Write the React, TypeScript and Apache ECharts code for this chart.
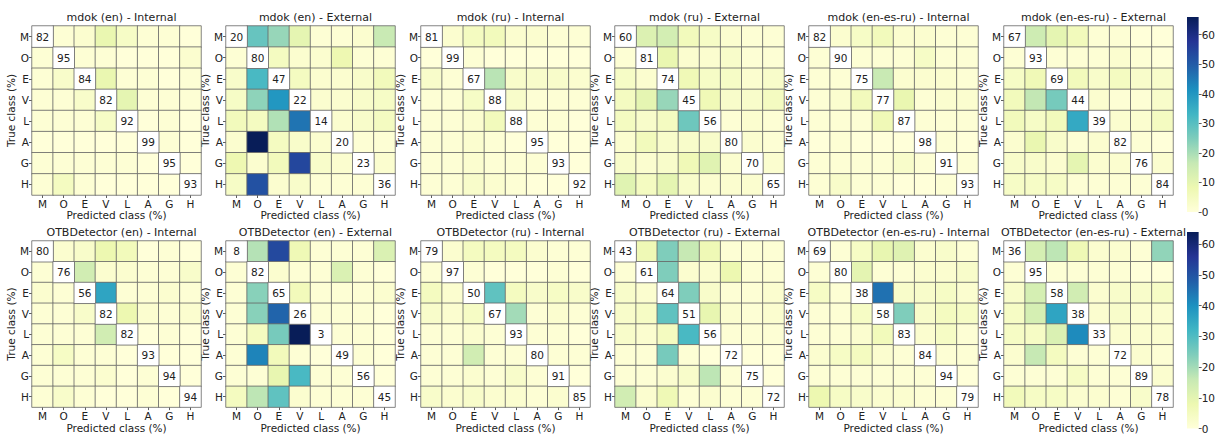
import React, { useEffect, useRef } from 'react';
import * as echarts from 'echarts';

const classes = ['M', 'O', 'E', 'V', 'L', 'A', 'G', 'H'];

const panelTitles = [
  'mdok (en) - Internal', 'mdok (en) - External', 'mdok (ru) - Internal',
  'mdok (ru) - External', 'mdok (en-es-ru) - Internal', 'mdok (en-es-ru) - External',
  'OTBDetector (en) - Internal', 'OTBDetector (en) - External', 'OTBDetector (ru) - Internal',
  'OTBDetector (ru) - External', 'OTBDetector (en-es-ru) - Internal', 'OTBDetector (en-es-ru) - External',
];

// rows = true class, columns = predicted class (M O E V L A G H), in %
const mdokEnInternal = [
  [82, 1, 2, 9, 4, 1, 1, 0],
  [1, 95, 1, 1, 0, 0, 0, 2],
  [1, 3, 84, 9, 1, 1, 0, 1],
  [1, 1, 3, 82, 10, 1, 1, 1],
  [1, 1, 1, 4, 92, 0, 1, 0],
  [0, 0, 0, 0, 0, 99, 1, 0],
  [1, 1, 1, 1, 1, 0, 95, 0],
  [1, 5, 1, 0, 0, 0, 0, 93],
];
const mdokEnExternal = [
  [20, 28, 22, 10, 1, 1, 2, 16],
  [1, 80, 5, 2, 2, 8, 1, 1],
  [3, 32, 47, 5, 2, 2, 3, 6],
  [4, 23, 40, 22, 2, 2, 3, 4],
  [6, 5, 19, 46, 14, 2, 3, 5],
  [2, 66, 5, 3, 2, 20, 1, 1],
  [8, 2, 6, 54, 3, 2, 23, 2],
  [4, 52, 2, 3, 1, 1, 1, 36],
];
const mdokRuInternal = [
  [81, 2, 5, 6, 2, 2, 1, 1],
  [0, 99, 1, 0, 0, 0, 0, 0],
  [3, 1, 67, 18, 3, 3, 3, 2],
  [1, 1, 4, 88, 3, 1, 1, 1],
  [1, 1, 2, 6, 88, 1, 1, 0],
  [1, 1, 2, 1, 0, 95, 0, 0],
  [1, 1, 2, 1, 1, 1, 93, 0],
  [1, 1, 3, 2, 1, 0, 0, 92],
];
const mdokRuExternal = [
  [60, 12, 14, 6, 4, 2, 1, 1],
  [1, 81, 9, 2, 2, 3, 1, 1],
  [4, 2, 74, 7, 4, 4, 2, 3],
  [5, 10, 22, 45, 7, 3, 3, 5],
  [5, 3, 5, 27, 56, 1, 2, 1],
  [2, 6, 3, 3, 3, 80, 2, 1],
  [3, 2, 3, 7, 11, 2, 70, 2],
  [11, 5, 10, 3, 2, 2, 2, 65],
];
const mdokMultiInternal = [
  [82, 2, 4, 6, 2, 2, 1, 1],
  [1, 90, 1, 1, 1, 4, 1, 1],
  [1, 1, 75, 16, 2, 2, 2, 1],
  [1, 2, 6, 77, 9, 1, 2, 2],
  [1, 1, 1, 7, 87, 1, 1, 1],
  [0, 1, 0, 0, 0, 98, 1, 0],
  [1, 1, 1, 1, 3, 1, 91, 1],
  [1, 3, 1, 1, 0, 0, 1, 93],
];
const mdokMultiExternal = [
  [67, 15, 10, 6, 1, 1, 0, 0],
  [1, 93, 1, 1, 1, 2, 1, 0],
  [4, 7, 69, 6, 3, 5, 3, 3],
  [6, 17, 26, 44, 2, 1, 1, 3],
  [6, 4, 6, 36, 39, 2, 2, 5],
  [2, 9, 3, 1, 2, 82, 1, 0],
  [3, 3, 2, 10, 2, 2, 76, 2],
  [4, 4, 4, 1, 1, 1, 1, 84],
];
const otbEnInternal = [
  [80, 2, 3, 8, 6, 0, 1, 0],
  [1, 76, 14, 2, 2, 1, 1, 3],
  [2, 1, 56, 36, 1, 1, 2, 1],
  [1, 1, 3, 82, 8, 2, 1, 2],
  [1, 1, 1, 14, 82, 0, 1, 0],
  [1, 4, 1, 1, 0, 93, 0, 0],
  [1, 1, 1, 2, 0, 1, 94, 0],
  [1, 3, 1, 0, 0, 1, 0, 94],
];
const otbEnExternal = [
  [8, 18, 52, 7, 1, 1, 1, 12],
  [1, 82, 2, 1, 1, 12, 1, 0],
  [1, 23, 65, 6, 1, 1, 1, 2],
  [1, 23, 47, 26, 1, 1, 1, 0],
  [1, 5, 25, 64, 3, 1, 1, 0],
  [1, 42, 6, 1, 0, 49, 1, 0],
  [1, 1, 9, 31, 1, 1, 56, 0],
  [5, 17, 28, 2, 1, 1, 1, 45],
];
const otbRuInternal = [
  [79, 2, 5, 5, 5, 2, 1, 1],
  [1, 97, 1, 0, 0, 0, 1, 0],
  [5, 2, 50, 28, 5, 3, 4, 3],
  [3, 2, 4, 67, 20, 1, 2, 1],
  [1, 1, 2, 1, 93, 1, 1, 0],
  [1, 1, 14, 1, 1, 80, 1, 1],
  [1, 1, 2, 1, 3, 1, 91, 0],
  [3, 2, 3, 2, 2, 1, 2, 85],
];
const otbRuExternal = [
  [43, 7, 24, 16, 7, 1, 1, 1],
  [1, 61, 24, 2, 2, 8, 1, 1],
  [3, 2, 64, 24, 3, 1, 1, 2],
  [3, 4, 28, 51, 9, 2, 1, 2],
  [3, 2, 5, 31, 56, 1, 1, 1],
  [1, 1, 25, 1, 0, 72, 0, 0],
  [1, 1, 2, 3, 17, 1, 75, 0],
  [14, 2, 7, 1, 2, 1, 1, 72],
];
const otbMultiInternal = [
  [69, 1, 4, 9, 11, 2, 3, 1],
  [1, 80, 10, 1, 1, 2, 2, 3],
  [4, 1, 38, 45, 3, 3, 4, 2],
  [1, 1, 4, 58, 24, 3, 5, 4],
  [1, 1, 2, 6, 83, 2, 4, 1],
  [2, 4, 5, 2, 1, 84, 1, 1],
  [1, 1, 1, 1, 1, 1, 94, 0],
  [8, 4, 3, 2, 2, 1, 1, 79],
];
const otbMultiExternal = [
  [36, 13, 17, 7, 2, 2, 1, 22],
  [1, 95, 1, 1, 1, 1, 0, 0],
  [3, 13, 58, 14, 2, 3, 3, 4],
  [4, 13, 36, 38, 2, 3, 2, 2],
  [4, 4, 12, 41, 33, 2, 2, 2],
  [2, 16, 5, 1, 1, 72, 2, 1],
  [1, 1, 1, 4, 1, 1, 89, 2],
  [6, 4, 4, 2, 2, 1, 3, 78],
];

const matrices = [
  mdokEnInternal, mdokEnExternal, mdokRuInternal, mdokRuExternal, mdokMultiInternal, mdokMultiExternal,
  otbEnInternal, otbEnExternal, otbRuInternal, otbRuExternal, otbMultiInternal, otbMultiExternal,
];

const rowVmax = [66, 64];
const colorbarTicks = [0, 10, 20, 30, 40, 50, 60];
const ylgnbu = ['#ffffd9', '#edf8b1', '#c7e9b4', '#7fcdbb', '#41b6c4', '#1d91c0', '#225ea8', '#253494', '#081d58'];

const FONT = 'DejaVu Sans';
const TXT = '#222';
const FS = 10.5;

export default function App() {
  const ref = useRef<HTMLDivElement>(null);
  useEffect(() => {
    if (!ref.current) return;
    const chart = echarts.init(ref.current, null, { renderer: 'svg' });

    const lefts = [32, 226, 421, 615, 809, 1004];
    const tops = [26, 241];
    const cw = 169;
    const ch = 169;

    const grids: any[] = [];
    const xAxes: any[] = [];
    const yAxes: any[] = [];
    const titles: any[] = [];
    const offSeries: any[] = [];
    const diagSeries: any[] = [];

    matrices.forEach((m, i) => {
      const r = Math.floor(i / 6);
      const c = i % 6;
      grids.push({ left: lefts[c], top: tops[r], width: cw, height: ch });
      xAxes.push({
        type: 'category', gridIndex: i, data: classes, position: 'bottom',
        axisLine: { show: false },
        axisTick: { show: true, alignWithLabel: true, length: 3, lineStyle: { color: '#333', width: 0.8 } },
        axisLabel: { fontSize: FS, color: TXT, fontFamily: FONT, margin: 3 },
        splitLine: { show: false },
        name: 'Predicted class (%)', nameLocation: 'middle', nameGap: 13,
        nameTextStyle: { fontSize: FS, color: TXT, fontFamily: FONT },
      });
      yAxes.push({
        type: 'category', gridIndex: i, data: classes, inverse: true,
        axisLine: { show: false },
        axisTick: { show: true, alignWithLabel: true, length: 3, lineStyle: { color: '#333', width: 0.8 } },
        axisLabel: { fontSize: FS, color: TXT, fontFamily: FONT, margin: 3 },
        splitLine: { show: false },
        name: 'True class (%)', nameLocation: 'middle', nameGap: 13,
        nameTextStyle: { fontSize: FS, color: TXT, fontFamily: FONT },
      });
      titles.push({
        text: panelTitles[i], left: lefts[c] + cw / 2, top: tops[r] - 19, textAlign: 'center',
        textStyle: { fontSize: 11, fontWeight: 'normal', color: TXT, fontFamily: FONT },
      });
      const off: any[] = [];
      const diag: any[] = [];
      m.forEach((row, yi) => row.forEach((v, xi) => {
        if (xi === yi) diag.push([xi, yi, v]);
        else off.push([xi, yi, v]);
      }));
      offSeries.push({
        type: 'heatmap', xAxisIndex: i, yAxisIndex: i, data: off,
        itemStyle: { borderColor: '#666', borderWidth: 0.8 },
        emphasis: { disabled: true }, silent: true,
      });
      diagSeries.push({
        type: 'heatmap', xAxisIndex: i, yAxisIndex: i, data: diag,
        itemStyle: { borderColor: '#666', borderWidth: 0.8 },
        label: { show: true, formatter: (p: any) => String(p.value[2]), fontSize: FS, color: TXT, fontFamily: FONT },
        emphasis: { disabled: true }, silent: true,
      });
    });

    // colorbars
    const cbTops = [17, 232];
    const cbHeights = [195, 197];
    const cbSeries: any[] = [];
    [0, 1].forEach((r) => {
      const gi = 12 + r;
      grids.push({ left: 1187, top: cbTops[r], width: 12, height: cbHeights[r] });
      xAxes.push({ type: 'category', gridIndex: gi, data: [''], show: false });
      yAxes.push({
        type: 'value', gridIndex: gi, min: 0, max: rowVmax[r], position: 'right',
        axisLine: { show: false },
        splitLine: { show: false },
        axisTick: { show: true, length: 3, customValues: colorbarTicks, lineStyle: { color: '#333', width: 0.8 } },
        axisLabel: { customValues: colorbarTicks, fontSize: FS, color: TXT, fontFamily: FONT, margin: 3 },
      });
      cbSeries.push({
        type: 'bar', xAxisIndex: gi, yAxisIndex: gi, data: [rowVmax[r]], barWidth: '100%', silent: true,
        itemStyle: {
          color: new echarts.graphic.LinearGradient(0, 1, 0, 0,
            ylgnbu.map((col, k) => ({ offset: k / (ylgnbu.length - 1), color: col }))),
        },
      });
    });

    const offIdx = offSeries.map((_, i) => i);
    const diagIdx = diagSeries.map((_, i) => 12 + i);

    chart.setOption({
      animation: false,
      backgroundColor: '#fff',
      textStyle: { fontFamily: FONT },
      title: titles,
      grid: grids,
      xAxis: xAxes,
      yAxis: yAxes,
      visualMap: [
        { type: 'continuous', show: false, min: 0, max: rowVmax[0], seriesIndex: offIdx.slice(0, 6), inRange: { color: ylgnbu } },
        { type: 'continuous', show: false, min: 0, max: rowVmax[1], seriesIndex: offIdx.slice(6, 12), inRange: { color: ylgnbu } },
        { type: 'continuous', show: false, min: 0, max: 100, seriesIndex: diagIdx, inRange: { color: ['#ffffff', '#ffffff'] } },
      ],
      series: [...offSeries, ...diagSeries, ...cbSeries],
    });

    return () => chart.dispose();
  }, []);

  return <div ref={ref} style={{ position: 'fixed', left: 0, top: 0, width: 1218, height: 434, background: '#fff' }} />;
}
